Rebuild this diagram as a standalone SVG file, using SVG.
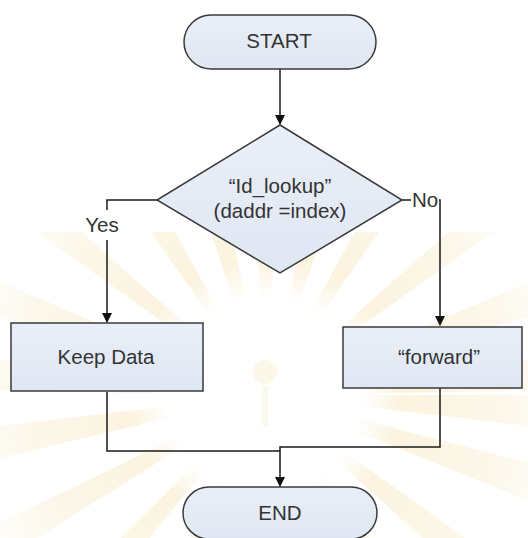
<svg xmlns="http://www.w3.org/2000/svg" width="528" height="538" viewBox="0 0 528 538">
  <style>
    .shape { fill: url(#boxFill); stroke: #3a3a3a; stroke-width: 1.5; }
    .label { font-family: "Liberation Sans", Arial, sans-serif; font-size: 20.5px; fill: #333333; text-anchor: middle; }
    .wire { fill: none; stroke: #1a1a1a; stroke-width: 1.5; }
  </style>
  <defs>
    <linearGradient id="boxFill" x1="0" y1="0" x2="0" y2="1">
      <stop offset="0" stop-color="#e9eff8"/>
      <stop offset="1" stop-color="#dfe7f3"/>
    </linearGradient>
    <radialGradient id="rayFade" gradientUnits="userSpaceOnUse" cx="265" cy="395" r="320">
      <stop offset="0" stop-color="#f3dc9a" stop-opacity="0"/>
      <stop offset="0.3" stop-color="#f3dc9a" stop-opacity="0"/>
      <stop offset="0.42" stop-color="#f1d58c" stop-opacity="0.28"/>
      <stop offset="0.75" stop-color="#f3dca0" stop-opacity="0.22"/>
      <stop offset="1" stop-color="#f3dca0" stop-opacity="0"/>
    </radialGradient>
    <clipPath id="lowerHalf">
      <rect x="0" y="232" width="528" height="306"/>
    </clipPath>
    <marker id="arrow" markerWidth="10" markerHeight="10" refX="9" refY="5" orient="auto" markerUnits="userSpaceOnUse">
      <path d="M0,0 L10,5 L0,10 Z" fill="#111111"/>
    </marker>
  </defs>

  <rect width="528" height="538" fill="#ffffff"/>

  <!-- faint background sunburst -->
  <g id="backdrop" fill="url(#rayFade)" clip-path="url(#lowerHalf)">
    <path d="M265,395 L565,395 L562,430 Z M265,395 L555,470 L540,505 Z M265,395 L510,570 L485,595 Z M265,395 L440,635 L405,650 Z M265,395 L345,690 L310,695 Z M265,395 L240,695 L205,690 Z M265,395 L160,675 L128,660 Z M265,395 L75,630 L50,608 Z M265,395 L10,555 L-5,525 Z M265,395 L-30,465 L-35,430 Z M265,395 L-35,390 L-32,355 Z M265,395 L-20,310 L-8,278 Z M265,395 L20,220 L40,195 Z M265,395 L90,145 L118,128 Z M265,395 L170,110 L205,102 Z M265,395 L250,95 L285,95 Z M265,395 L335,102 L368,110 Z M265,395 L412,128 L440,145 Z M265,395 L490,195 L510,220 Z M265,395 L538,278 L550,310 Z M265,395 L562,355 L565,390 Z"/>
    <circle cx="265" cy="372" r="12" fill="#f3e3b6" opacity="0.3"/>
    <rect x="262" y="386" width="6" height="40" fill="#f0e2bd" opacity="0.25"/>
  </g>

  <g id="connectors">
    <path class="wire" d="M280,69 L280,124" marker-end="url(#arrow)"/>
    <path class="wire" d="M157,200 L107,200 L107,210"/>
    <path class="wire" d="M107,240 L107,322" marker-end="url(#arrow)"/>
    <path class="wire" d="M402,200 L440,200 L440,325" marker-end="url(#arrow)"/>
    <path class="wire" d="M107,392 L107,451 L280,451"/>
    <path class="wire" d="M440,388 L440,447 L280,447 L280,486" marker-end="url(#arrow)"/>
    <text class="label" x="102" y="232">Yes</text>
    <rect x="411" y="189" width="28" height="19" fill="#ffffff"/>
    <text class="label" x="425" y="207">No</text>
  </g>

  <g id="start">
    <rect class="shape" x="184" y="15" width="192" height="54" rx="27" ry="27"/>
    <text class="label" x="279" y="48">START</text>
  </g>

  <g id="lookup">
    <polygon class="shape" points="280,125 402,200 280,273 157,200"/>
    <text class="label" x="280" y="193">“Id_lookup”</text>
    <text class="label" x="280" y="218">(daddr =index)</text>
  </g>

  <g id="keep-data">
    <rect class="shape" x="11" y="323" width="192" height="68"/>
    <text class="label" x="106" y="364">Keep Data</text>
  </g>

  <g id="forward">
    <rect class="shape" x="343" y="327" width="179" height="61"/>
    <text class="label" x="439" y="364">“forward”</text>
  </g>

  <g id="end">
    <rect class="shape" x="183" y="487" width="194" height="52" rx="26" ry="26"/>
    <text class="label" x="280" y="520">END</text>
  </g>
</svg>
